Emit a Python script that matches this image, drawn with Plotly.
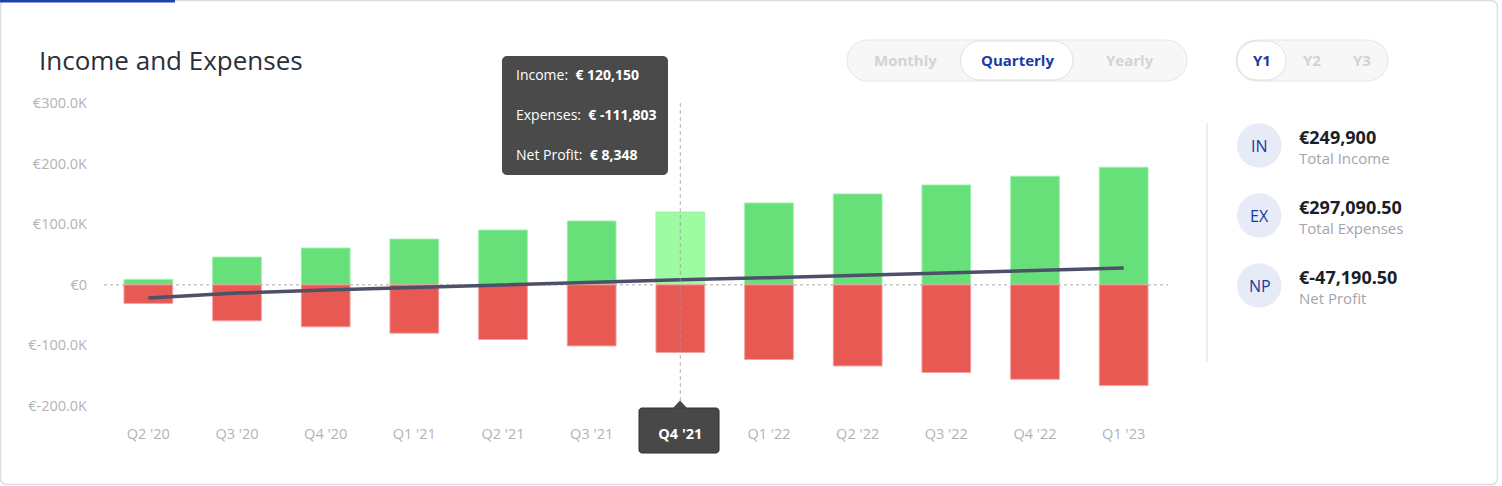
import plotly.graph_objects as go

# ---------------- data ----------------
quarters = ["Q2 '20", "Q3 '20", "Q4 '20", "Q1 '21", "Q2 '21", "Q3 '21",
            "Q4 '21", "Q1 '22", "Q2 '22", "Q3 '22", "Q4 '22", "Q1 '23"]
income = [8900, 45800, 60700, 75500, 90400, 105300,
          120150.4, 135000, 149900, 164800, 179200, 194000]
expenses = [-30700, -59500, -69400, -79800, -90200, -100800,
            -111802.6, -123300, -133900, -144800, -155900, -166300]
net_profit = [i + e for i, e in zip(income, expenses)]

y_tick_vals = [300000, 200000, 100000, 0, -100000, -200000]
y_tick_text = ["€300.0K", "€200.0K", "€100.0K", "€0", "€-100.0K", "€-200.0K"]

period_options = ["Monthly", "Quarterly", "Yearly"]
year_options = ["Y1", "Y2", "Y3"]
summary_codes = ["IN", "EX", "NP"]
summary_labels = ["Total Income", "Total Expenses", "Net Profit"]
total_income = 249900
total_expenses = 297090.50
summary_values = [total_income, total_expenses, total_income - total_expenses]
selected_index = 6

# ---------------- layout geometry ----------------
W, H = 1502, 486
ML, MR, MT, MB = 104, 334, 103, 80
PW, PH = W - ML - MR, H - MT - MB
FONT = "Open Sans"


def X(px):
    return (px - ML) / PW


def Y(py):
    return (H - MB - py) / PH


def rrect(x0, y0, x1, y1, r):
    k = 0.5523 * r
    pts = [
        ("M", [(x0 + r, y0)]),
        ("L", [(x1 - r, y0)]),
        ("C", [(x1 - r + k, y0), (x1, y0 + r - k), (x1, y0 + r)]),
        ("L", [(x1, y1 - r)]),
        ("C", [(x1, y1 - r + k), (x1 - r + k, y1), (x1 - r, y1)]),
        ("L", [(x0 + r, y1)]),
        ("C", [(x0 + r - k, y1), (x0, y1 - r + k), (x0, y1 - r)]),
        ("L", [(x0, y0 + r)]),
        ("C", [(x0, y0 + r - k), (x0 + r - k, y0), (x0 + r, y0)]),
    ]
    s = ""
    for cmd, ps in pts:
        s += cmd + " " + " ".join(f"{X(a):.6f},{Y(b):.6f}" for a, b in ps) + " "
    return s + "Z"


def fmt_money(v):
    if float(v).is_integer():
        return f"€{v:,.0f}"
    return f"€{v:,.2f}"


# ---------------- traces ----------------
inc_colors = ["#9dfca1" if i == selected_index else "#68e07a" for i in range(len(quarters))]

fig = go.Figure()
fig.add_trace(go.Bar(
    x=quarters, y=income, width=0.55,
    marker=dict(color=inc_colors, line=dict(color="rgba(160,240,170,0.9)", width=1)),
    hoverinfo="skip", showlegend=False))
fig.add_trace(go.Bar(
    x=quarters, y=expenses, width=0.55,
    marker=dict(color="#e85954", line=dict(color="rgba(245,160,160,0.9)", width=1)),
    hoverinfo="skip", showlegend=False))
fig.add_trace(go.Scatter(
    x=quarters, y=net_profit, mode="lines",
    line=dict(color="#4c5068", width=3.5),
    hoverinfo="skip", showlegend=False))

tick_text = [
    f"<span style='color:#ffffff'><b>{q}</b></span>" if i == selected_index else q
    for i, q in enumerate(quarters)
]

shapes = []
annotations = []

# card border
shapes.append(dict(type="path", xref="paper", yref="paper", layer="below",
                   path=rrect(0.5, 0.5, 1497.5, 484.5, 6),
                   line=dict(color="#dcdce2", width=1.5), fillcolor="rgba(0,0,0,0)"))
shapes.append(dict(type="rect", xref="paper", yref="paper", layer="below",
                   x0=X(0), x1=X(175), y0=Y(0), y1=Y(2.5),
                   line=dict(width=0), fillcolor="#1d42ad"))

# zero dotted line
shapes.append(dict(type="line", xref="paper", yref="y", x0=0, x1=1, y0=0, y1=0,
                   layer="below", line=dict(color="#c6c6c6", width=1.5, dash="dot")))

# hover dashed line
shapes.append(dict(type="line", xref="x", yref="paper",
                   x0=quarters[selected_index], x1=quarters[selected_index],
                   y0=Y(401), y1=Y(102), layer="above",
                   line=dict(color="rgba(150,150,150,0.6)", width=1.2, dash="4px,3px")))

# x tag for selected quarter
shapes.append(dict(type="path", xref="paper", yref="paper", layer="below",
                   path=rrect(639, 408, 719, 453, 3),
                   line=dict(color="#2f2f2f", width=1), fillcolor="#484848"))
shapes.append(dict(type="path", xref="paper", yref="paper", layer="below",
                   path=f"M {X(672.5)},{Y(408.5)} L {X(680)},{Y(400.5)} L {X(687.5)},{Y(408.5)} Z",
                   line=dict(width=0), fillcolor="#484848"))

# tooltip
shapes.append(dict(type="path", xref="paper", yref="paper", layer="above",
                   path=rrect(502, 56, 668, 175, 5),
                   line=dict(width=0), fillcolor="#4a4a4a"))
tip_lines = [
    ("Income:", income[selected_index]),
    ("Expenses:", expenses[selected_index]),
    ("Net Profit:", net_profit[selected_index]),
]
for j, (lab, val) in enumerate(tip_lines):
    annotations.append(dict(
        xref="paper", yref="paper", x=X(514), y=Y(74 + 40 * j),
        xanchor="left", yanchor="middle", showarrow=False,
        text=f"{lab}&nbsp;&nbsp;<b>€ {val:,.0f}</b>",
        font=dict(family=FONT, size=14, color="#ffffff")))

# title
annotations.append(dict(xref="paper", yref="paper", x=X(37), y=Y(60),
                        xanchor="left", yanchor="middle", showarrow=False,
                        text="Income and Expenses",
                        font=dict(family=FONT, size=26, color="#2a2f39")))

# period segmented control
shapes.append(dict(type="path", xref="paper", yref="paper", layer="below",
                   path=rrect(847, 40, 1187, 81, 20.5),
                   line=dict(color="#e6e6e6", width=1), fillcolor="#f7f7f7"))
shapes.append(dict(type="path", xref="paper", yref="paper", layer="below",
                   path=rrect(960.5, 41, 1073, 80, 19.5),
                   line=dict(color="#e0e0e0", width=1), fillcolor="#ffffff"))
for cx, lab in zip([905, 1017, 1130], period_options):
    col = "#1c3b9f" if lab == "Quarterly" else "#d3d3d3"
    annotations.append(dict(xref="paper", yref="paper", x=X(cx), y=Y(60),
                            xanchor="center", yanchor="middle", showarrow=False,
                            text=f"<b>{lab}</b>",
                            font=dict(family=FONT, size=15, color=col)))

# year segmented control
shapes.append(dict(type="path", xref="paper", yref="paper", layer="below",
                   path=rrect(1236, 40, 1388, 81, 20.5),
                   line=dict(color="#e6e6e6", width=1), fillcolor="#f7f7f7"))
shapes.append(dict(type="path", xref="paper", yref="paper", layer="below",
                   path=rrect(1237, 41, 1286, 80, 19.5),
                   line=dict(color="#e0e0e0", width=1), fillcolor="#ffffff"))
for cx, lab in zip([1262, 1312, 1362], year_options):
    col = "#1c3b9f" if lab == "Y1" else "#d3d3d3"
    annotations.append(dict(xref="paper", yref="paper", x=X(cx), y=Y(60),
                            xanchor="center", yanchor="middle", showarrow=False,
                            text=f"<b>{lab}</b>",
                            font=dict(family=FONT, size=15, color=col)))

# right summary panel
shapes.append(dict(type="line", xref="paper", yref="paper", layer="below",
                   x0=X(1207), x1=X(1207), y0=Y(123), y1=Y(362),
                   line=dict(color="#e3e8f4", width=1.5)))
for j, (code, lab, val) in enumerate(zip(summary_codes, summary_labels, summary_values)):
    cy = 145.5 + 70 * j
    shapes.append(dict(type="circle", xref="paper", yref="paper", layer="below",
                       x0=X(1237), x1=X(1281.5), y0=Y(cy + 22.3), y1=Y(cy - 22.3),
                       line=dict(width=0), fillcolor="#e6ebf7"))
    annotations.append(dict(xref="paper", yref="paper", x=X(1259.5), y=Y(cy),
                            xanchor="center", yanchor="middle", showarrow=False,
                            text=code, font=dict(family=FONT, size=16, color="#183a9e")))
    annotations.append(dict(xref="paper", yref="paper", x=X(1297), y=Y(cy - 8.5),
                            xanchor="left", yanchor="middle", showarrow=False,
                            text=f"<b>{fmt_money(val)}</b>",
                            font=dict(family=FONT, size=18, color="#1b1e27")))
    annotations.append(dict(xref="paper", yref="paper", x=X(1297), y=Y(cy + 12.5),
                            xanchor="left", yanchor="middle", showarrow=False,
                            text=lab, font=dict(family=FONT, size=15, color="#a4a4ae")))

fig.update_layout(
    width=W, height=H,
    margin=dict(l=ML, r=MR, t=MT, b=MB, pad=0),
    paper_bgcolor="#ffffff", plot_bgcolor="#ffffff",
    barmode="relative", bargap=0.45,
    showlegend=False,
    font=dict(family=FONT),
    shapes=shapes, annotations=annotations,
    xaxis=dict(type="category", range=[-0.5, len(quarters) - 0.5],
               tickmode="array", tickvals=quarters, ticktext=tick_text,
               showgrid=False, zeroline=False, showline=False, ticks="",
               ticklabelstandoff=17,
               tickfont=dict(family=FONT, size=14.5, color="#b3b3b3"), fixedrange=True),
    yaxis=dict(range=[-200000, 300000], tickmode="array",
               tickvals=y_tick_vals, ticktext=y_tick_text,
               showgrid=False, zeroline=False, showline=False, ticks="",
               ticklabelstandoff=16,
               tickfont=dict(family=FONT, size=14.5, color="#b3b3b3"), fixedrange=True),
)

fig.write_html("out.html")
